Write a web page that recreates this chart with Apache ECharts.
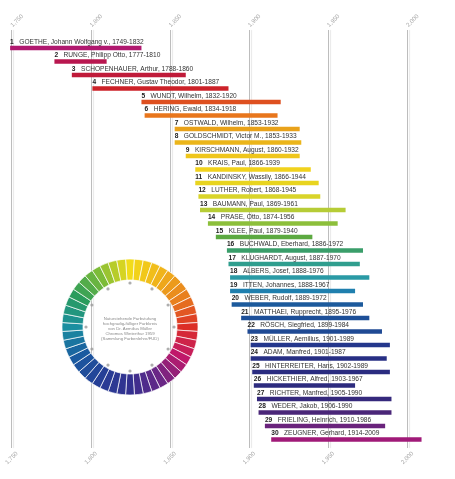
<!DOCTYPE html>
<html>
<head>
<meta charset="utf-8">
<script src="https://cdn.jsdelivr.net/npm/echarts@6/dist/echarts.min.js"></script>
<style>
html,body{margin:0;padding:0;background:#fff;}
#chart{width:455px;height:479px;}
</style>
</head>
<body>
<div id="chart"></div>
<script>
const names = ["GOETHE, Johann Wolfgang v.","RUNGE, Philipp Otto","SCHOPENHAUER, Arthur","FECHNER, Gustav Theodor","WUNDT, Wilhelm","HERING, Ewald","OSTWALD, Wilhelm","GOLDSCHMIDT, Victor M.","KIRSCHMANN, August","KRAIS, Paul","KANDINSKY, Wassily","LUTHER, Robert","BAUMANN, Paul","PRASE, Otto","KLEE, Paul","BUCHWALD, Eberhard","KLUGHARDT, August","ALBERS, Josef","ITTEN, Johannes","WEBER, Rudolf","MATTHAEI, Rupprecht","RÖSCH, Siegfried","MÜLLER, Aemilius","ADAM, Manfred","HINTERREITER, Hans","HICKETHIER, Alfred","RICHTER, Manfred","WEDER, Jakob","FRIELING, Heinrich","ZEUGNER, Gerhard"];
const births = [1749,1777,1788,1801,1832,1834,1853,1853,1860,1866,1866,1868,1869,1874,1879,1886,1887,1888,1888,1889,1895,1899,1901,1901,1902,1903,1905,1906,1910,1914];
const deaths = [1832,1810,1860,1887,1920,1918,1932,1933,1932,1939,1944,1945,1961,1956,1940,1972,1970,1976,1967,1972,1976,1984,1989,1987,1989,1967,1990,1990,1986,2009];
const barColors = ["#b0196f","#b8174f","#c01b3a","#cc2229","#de5020","#e8761c","#e9a21a","#ebb51a","#efc61c","#f1d21d","#e8d41f","#d9d42a","#b6cc36","#8cbf3b","#5ca941","#3a9e6a","#2f9e8e","#2a9aa5","#1f7fae","#1c5a9c","#1d4f98","#1f4a94","#24378c","#272f84","#2a2c80","#2d2b7e","#35297c","#4a2678","#6a237c","#a01a78"];
const yearTicks = [1750,1800,1850,1900,1950,2000];
const wheelStops = ["#f2dc1a","#f0b41a","#e8801e","#dc2e27","#c0186a","#6a2786","#33308f","#253f96","#1a5aa0","#1a8fa0","#2a9c5c","#7cbc38"];
const wheelSegmentCount = 48;
const wheelDotAngles = [0,30,60,90,120,150,180,210,240,270,300,330];
const wheelDotRadius = 44;
const wheelText = "Naturstehende Farbstufung\nhochgradig-fülliger Farbkreis\nvon Dr. Aemilius Müller\nChromos Winterthur 1959\n(Sammlung Farbenlehre/FUD)";

function hexToRgb(h){return [parseInt(h.substr(1,2),16),parseInt(h.substr(3,2),16),parseInt(h.substr(5,2),16)];}
function mix(a,b,t){const A=hexToRgb(a),B=hexToRgb(b);return 'rgb('+A.map((v,i)=>Math.round(v+(B[i]-v)*t)).join(',')+')';}
const wheelData = [];
for (let i=0;i<wheelSegmentCount;i++){
  const pos = i*wheelStops.length/wheelSegmentCount;
  const k = Math.floor(pos), t = pos-k;
  wheelData.push({value:1, itemStyle:{color:mix(wheelStops[k], wheelStops[(k+1)%wheelStops.length], t)}});
}

const rows = names.map((n,i)=>[i, births[i], deaths[i]]);

const chart = echarts.init(document.getElementById('chart'), null, {renderer:'canvas'});
const gridLine = {show:true, lineStyle:{color:'#bdbdbd', width:1, shadowColor:'rgba(0,0,0,0.10)', shadowBlur:1, shadowOffsetX:2}};
chart.setOption({
  animation:false,
  backgroundColor:'#fff',
  grid:{left:11.7, right:47.7, top:30, bottom:31},
  xAxis:[
    {type:'value', position:'top', min:1750, max:2000, interval:50,
     axisLine:{show:false}, axisTick:{show:false}, splitLine:gridLine,
     axisLabel:{rotate:45, fontSize:6, color:'#a8a8a8', fontFamily:'Liberation Sans', margin:4}},
    {type:'value', position:'bottom', min:1750, max:2000, interval:50,
     axisLine:{show:false}, axisTick:{show:false}, splitLine:{show:false},
     axisLabel:{rotate:45, fontSize:6, color:'#a8a8a8', fontFamily:'Liberation Sans', margin:10, align:'center', verticalAlign:'middle'}}
  ],
  yAxis:{type:'value', inverse:true, min:-1.333, max:29.63, show:false},
  polar:{center:[130,327], radius:68},
  angleAxis:{type:'value', min:0, max:360, startAngle:90, clockwise:true, show:false},
  radiusAxis:{type:'value', min:0, max:68, show:false},
  series:[
    {
      type:'custom', clip:false, z:5,
      data: rows,
      encode:{x:[1,2], y:0},
      renderItem:function(params, api){
        const idx = api.value(0);
        const s = api.coord([api.value(1), idx]);
        const e = api.coord([api.value(2), idx]);
        const h = 4.5;
        return {type:'group', children:[
          {type:'rect', shape:{x:s[0], y:s[1]-h/2, width:e[0]-s[0], height:h}, style:{fill:barColors[idx]}},
          {type:'text', x:s[0], y:s[1]-6.2, style:{
            text:'{n|'+(idx+1)+'}{t|'+names[idx]+', '+births[idx]+'-'+deaths[idx]+'}',
            verticalAlign:'middle', align:'left',
            rich:{
              n:{fontSize:6.6, fontWeight:'bold', fill:'#222', fontFamily:'Liberation Sans', padding:[0,5.5,0,0]},
              t:{fontSize:6.6, fill:'#333', fontFamily:'Liberation Sans'}
            }
          }}
        ]};
      }
    },
    {
      type:'pie', center:[130,327], radius:[47,68], startAngle:90+180/wheelSegmentCount, clockwise:true,
      label:{show:false}, labelLine:{show:false}, silent:true,
      itemStyle:{borderColor:'#fff', borderWidth:0.7},
      data: wheelData, z:2
    },
    {
      type:'scatter', coordinateSystem:'polar', symbolSize:3.2, silent:true,
      itemStyle:{color:'#9a9a9a'},
      data: wheelDotAngles.map(a=>[wheelDotRadius, a]), z:3
    }
  ],
  graphic:[
    {type:'text', x:130, y:329, z:10, style:{text:wheelText, fontSize:4.3, lineHeight:5, fill:'#8a8a8a', align:'center', verticalAlign:'middle', fontFamily:'Liberation Sans'}}
  ]
});
</script>
</body>
</html>
